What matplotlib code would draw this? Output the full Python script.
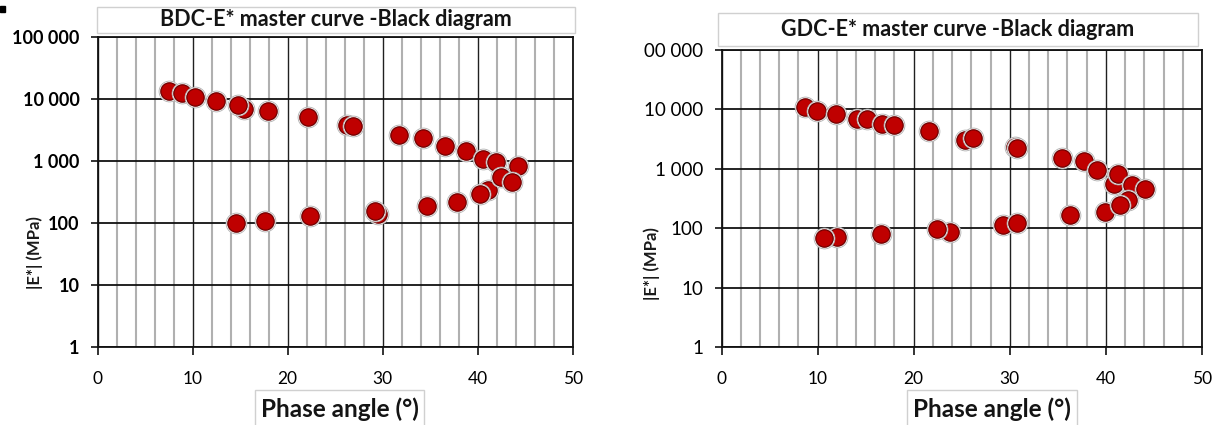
import matplotlib
matplotlib.use("Agg")
import matplotlib.pyplot as plt
from matplotlib.patches import Rectangle
from matplotlib.ticker import FixedLocator, FuncFormatter, NullLocator

plt.rcParams['font.family'] = ['Lato', 'DejaVu Sans']

# BDC (left) - phase angle (deg) and |E*| (MPa)
bdc_phase = [7.5, 8.9, 10.3, 12.5, 15.4, 14.8, 17.9, 22.1, 26.2, 26.9, 31.7, 34.2,
             36.5, 38.8, 40.5, 41.9, 44.2,
             14.6, 17.6, 22.3, 29.5, 29.2, 34.7, 37.8, 41.1, 40.2, 42.4, 43.6]
bdc_modulus = [13500, 12500, 10800, 9300, 6900, 8000, 6400, 5100, 3800, 3700, 2600, 2350,
               1750, 1450, 1080, 960, 830,
               100, 108, 130, 140, 156, 188, 218, 340, 294, 550, 460]

# GDC (right)
gdc_phase = [8.7, 9.9, 11.9, 14.1, 15.1, 16.7, 17.9, 21.6, 25.3, 26.2, 30.5, 30.8,
             35.4, 37.7, 39.1, 40.8, 41.3, 42.7, 44.1,
             12.0, 10.7, 16.6, 23.8, 22.4, 29.3, 30.8, 36.3, 39.9, 42.3, 41.5]
gdc_modulus = [10800, 9250, 8240, 6800, 6800, 5600, 5400, 4260, 3040, 3290, 2320, 2240,
               1530, 1360, 960, 560, 825, 540, 450,
               71, 68, 79, 86, 96, 112, 121, 164, 185, 293, 250]

y_ticks = [1, 10, 100, 1000, 10000, 100000]
x_ticks = [0, 10, 20, 30, 40, 50]

W, H = 1222, 425
fig = plt.figure(figsize=(W / 100, H / 100), dpi=100)


def fx(px):
    return px / W


def fy(py):
    return 1 - py / H


def space_thousands(v, pos):
    return f"{int(round(v)):,}".replace(",", " ")


def cropped_thousands(v, pos):
    # the right picture is cut on its left edge, so the top label lost its "1"
    s = space_thousands(v, pos)
    return s[1:] if len(s) > 6 else s


def make_panel(rect, phase, modulus, title, title_box, xlabel_box, ylabel_xy,
               ybold, yfmt, ysize):
    ax = fig.add_axes(rect)
    ax.set_xlim(0, 50)
    ax.set_yscale('log')
    ax.set_ylim(1, 100000)
    ax.xaxis.set_major_locator(FixedLocator(x_ticks))
    ax.xaxis.set_minor_locator(FixedLocator([v for v in range(2, 50, 2) if v % 10]))
    ax.yaxis.set_major_locator(FixedLocator(y_ticks))
    ax.yaxis.set_minor_locator(NullLocator())
    ax.yaxis.set_major_formatter(FuncFormatter(yfmt))

    ax.grid(which='minor', axis='x', color='#b0b0b0', lw=1.5, zorder=0)
    ax.grid(which='major', axis='x', color='#202020', lw=1.0, zorder=0)
    ax.grid(which='major', axis='y', color='#111111', lw=1.3, zorder=0)
    ax.set_axisbelow(True)
    for s in ax.spines.values():
        s.set_color('#111111')
        s.set_linewidth(1.3)

    ax.tick_params(axis='x', which='major', direction='out', length=6, width=1.2,
                   pad=11, labelsize=12.5, color='#111111')
    ax.tick_params(axis='x', which='minor', length=0)
    ax.tick_params(axis='y', which='major', direction='out', length=5, width=1.2,
                   pad=8, labelsize=ysize, color='#111111')
    for lab in ax.get_yticklabels():
        lab.set_fontweight('bold' if ybold else 'normal')

    for x, y in zip(phase, modulus):
        ax.plot(x, y, 'o', ms=15, mfc='white', mec='#b0b0b0', mew=0.6, zorder=3)
        ax.plot(x, y, 'o', ms=12.5, mfc='#bf0000', mec='#6e0000', mew=0.9, zorder=3)

    # title box
    x0, y0, x1, y1 = title_box
    fig.patches.append(Rectangle((fx(x0), fy(y1)), fx(x1) - fx(x0), fy(y0) - fy(y1),
                                 transform=fig.transFigure, fill=False,
                                 edgecolor='#d0d0d0', lw=1.0))
    fig.text(fx((x0 + x1) / 2), fy((y0 + y1) / 2), title, ha='center', va='center',
             fontsize=15.5, fontweight='bold', color='#141414')

    # x label box
    x0, y0, x1, y1 = xlabel_box
    fig.patches.append(Rectangle((fx(x0), fy(y1)), fx(x1) - fx(x0), fy(y0) - fy(y1),
                                 transform=fig.transFigure, fill=False,
                                 edgecolor='#d0d0d0', lw=1.0))
    fig.text(fx((x0 + x1) / 2), fy(409), 'Phase angle (°)', ha='center', va='center',
             fontsize=17.5, fontweight='bold', color='#141414')

    fig.text(fx(ylabel_xy[0]), fy(ylabel_xy[1]), '|E*| (MPa)', rotation=90,
             ha='center', va='center', fontsize=12, fontweight='bold', color='#1a1a1a')
    return ax


ax1 = make_panel([fx(97.5), fy(347), fx(573) - fx(97.5), fy(37) - fy(347)],
                 bdc_phase, bdc_modulus, 'BDC-E* master curve -Black diagram',
                 (97, 7, 575, 33), (255, 390, 424, 432), (35, 253), True,
                 space_thousands, 13)

ax2 = make_panel([fx(721.5), fy(347), fx(1202) - fx(721.5), fy(50) - fy(347)],
                 gdc_phase, gdc_modulus, 'GDC-E* master curve -Black diagram',
                 (718, 13, 1198, 46), (907, 390, 1077, 432), (652, 264), False,
                 cropped_thousands, 13.5)

# small dark mark in the top-left corner
fig.patches.append(Rectangle((0, fy(12)), fx(5), fy(6) - fy(12),
                             transform=fig.transFigure, color='black'))

fig.savefig('out.png', dpi=100, facecolor='white')
